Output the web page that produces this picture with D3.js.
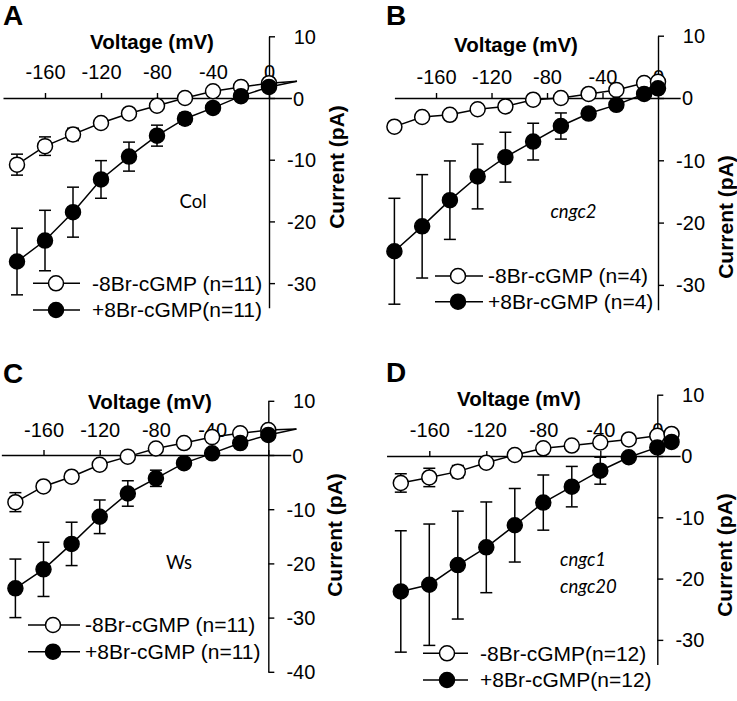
<!DOCTYPE html>
<html><head><meta charset="utf-8">
<script src="https://cdn.jsdelivr.net/npm/d3@7"></script>
<style>body{margin:0;background:#fff}svg{display:block}</style>
</head><body>
<svg id="c" width="737" height="701"></svg>
<script>
// ---------- data ----------
const xTickValues = [-160, -120, -80, -40, 0];
const yTickValuesShort = [10, 0, -10, -20, -30];
const yTickValuesLong = [10, 0, -10, -20, -30, -40];
const xTitle = "Voltage (mV)";
const yTitle = "Current (pA)";

// Panel A (Col)
const voltageA = [-180, -160, -140, -120, -100, -80, -60, -40, -20, 0, 20];
const openA = [-10.8, -7.8, -5.9, -4.05, -2.5, -1.25, 0.0, 1.1, 1.8, 2.4, 2.7];
const openErrA = [1.7, 1.5, 1.0, 0.6, 0.5, 0.4, 0.3, 0.3, 0.3, 0.3, 0];
const filledA = [-26.5, -23.1, -18.5, -13.2, -9.5, -6.1, -3.35, -1.6, 0.3, 1.8, 2.7];
const filledErrA = [5.4, 4.9, 4.05, 3.05, 2.35, 1.7, 0.9, 0.6, 0.4, 0.4, 0];
const legendA = ["-8Br-cGMP (n=11)", "+8Br-cGMP(n=11)"];
const noteA = ["Col"];

// Panel B (cngc2)
const voltageB = [-190, -170, -150, -130, -110, -90, -70, -50, -30, -10, 0];
const openB = [-4.6, -3.05, -2.7, -1.8, -1.35, -0.27, 0.0, 0.65, 1.3, 2.4, 2.6];
const openErrB = [0.4, 0.4, 0.4, 0.4, 0.3, 0.3, 0.3, 0.3, 0.3, 0.3, 0.3];
const filledB = [-24.6, -20.6, -16.4, -12.6, -9.5, -7.0, -4.5, -2.5, -1.1, 0.65, 1.55];
const filledErrB = [8.5, 8.3, 6.3, 5.2, 4.0, 2.95, 2.1, 0.6, 0.5, 0.4, 0.4];
const legendB = ["-8Br-cGMP (n=4)", "+8Br-cGMP (n=4)"];
const noteB = ["cngc2"];

// Panel C (Ws)
const voltageC = [-180, -160, -140, -120, -100, -80, -60, -40, -20, 0, 20];
const openC = [-8.7, -5.8, -4.0, -1.8, -0.3, 1.2, 2.2, 3.3, 4.0, 4.6, 4.8];
const openErrC = [1.75, 0.8, 0.6, 0.5, 0.4, 0.3, 0.3, 0.3, 0.3, 0.3, 0];
const filledC = [-24.6, -21.1, -16.4, -11.4, -7.1, -4.3, -1.5, 0.3, 2.2, 3.7, 4.8];
const filledErrC = [5.4, 5.0, 4.0, 3.1, 2.35, 1.5, 0.6, 0.5, 0.4, 0.4, 0];
const legendC = ["-8Br-cGMP (n=11)", "+8Br-cGMP (n=11)"];
const noteC = ["Ws"];

// Panel D (cngc1 cngc20)
const voltageD = [-180, -160, -140, -120, -100, -80, -60, -40, -20, 0, 10];
const openD = [-4.4, -3.5, -2.55, -1.1, 0.16, 1.25, 1.7, 2.2, 2.7, 3.3, 3.6];
const openErrD = [1.5, 1.5, 1.0, 0.5, 0.3, 0.3, 0.3, 0.3, 0.3, 0.3, 0.3];
const filledD = [-22.1, -21.0, -17.8, -14.9, -11.3, -7.6, -5.0, -2.4, -0.2, 1.4, 2.3];
const filledErrD = [9.9, 9.9, 8.8, 7.4, 6.0, 4.5, 3.3, 2.2, 0.5, 0.5, 0.3];
const legendD = ["-8Br-cGMP(n=12)", "+8Br-cGMP(n=12)"];
const noteD = ["cngc1", "cngc20"];

// ---------- layout ----------
const FONT = "'Liberation Sans', Arial, Helvetica, sans-serif";
const NOTEFONT = "Lato, 'Open Sans', sans-serif";

const panels = [
  {letter: "A", letterXY: [3, 25], v: voltageA, open: openA, openErr: openErrA, filled: filledA, filledErr: filledErrA,
   markerMax: 0, xRange: [3, 291.4], yDomain: [10, -34], yRange: [36.3, 307.8], yTicks: yTickValuesShort,
   xLabelPad: 14, xTitleXY: [152, 48.5], yTitleXY: [337, 167],
   legend: legendA, legLine: [33, 80], legMarker: 56, legText: 92, legRows: [283.3, 310],
   note: noteA, noteXY: [193, 202], noteAnchor: "middle", noteItalic: false},
  {letter: "B", letterXY: [386, 25], v: voltageB, open: openB, openErr: openErrB, filled: filledB, filledErr: filledErrB,
   markerMax: 100, xRange: [394.4, 680.2], yDomain: [10, -34], yRange: [35.7, 309.8], yTicks: yTickValuesShort,
   xLabelPad: 9, xTitleXY: [516, 52], yTitleXY: [726, 217],
   legend: legendB, legLine: [435, 483], legMarker: 458, legText: 488, legRows: [276, 301.7],
   note: noteB, noteXY: [573.5, 212], noteAnchor: "middle", noteItalic: true},
  {letter: "C", letterXY: [3, 383], v: voltageC, open: openC, openErr: openErrC, filled: filledC, filledErr: filledErrC,
   markerMax: 0, xRange: [1.35, 290.8], yDomain: [10, -40], yRange: [400.8, 671.8], yTicks: yTickValuesLong,
   xLabelPad: 13.5, xTitleXY: [150, 409], yTitleXY: [335, 535],
   legend: legendC, legLine: [28, 80], legMarker: 53, legText: 85, legRows: [625, 651.7],
   note: noteC, noteXY: [179, 563], noteAnchor: "middle", noteItalic: false},
  {letter: "D", letterXY: [386, 381.7], v: voltageD, open: openD, openErr: openErrD, filled: filledD, filledErr: filledErrD,
   markerMax: 100, xRange: [386.55, 680.1], yDomain: [10, -34], yRange: [394.7, 664.4], yTicks: yTickValuesShort,
   xLabelPad: 14, xTitleXY: [519, 405.5], yTitleXY: [725, 555],
   legend: legendD, legLine: [423, 468], legMarker: 447, legText: 480, legRows: [653.3, 680],
   note: noteD, noteXY: [560, 560], noteAnchor: "start", noteItalic: true}
];

const svg = d3.select("#c");
const R = 7.5, SW = 1.5, CAP = 6;

panels.forEach(p => {
  const x = d3.scaleLinear().domain([-190, 16]).range(p.xRange);
  const y = d3.scaleLinear().domain(p.yDomain).range(p.yRange);
  const g = svg.append("g");

  g.append("text").attr("x", p.letterXY[0]).attr("y", p.letterXY[1])
    .attr("font-family", FONT).attr("font-weight", "bold").attr("font-size", 28).text(p.letter);

  const xAxis = d3.axisTop(x).tickValues(xTickValues).tickSize(5).tickSizeOuter(0)
    .tickPadding(p.xLabelPad).tickFormat(d3.format("d"));
  const gx = g.append("g").attr("transform", `translate(0,${y(0)})`).call(xAxis);
  gx.select(".domain").attr("stroke", "#000").attr("stroke-width", 1.4);
  gx.selectAll(".tick line").attr("stroke", "#000").attr("stroke-width", 1.4);
  gx.selectAll(".tick text").attr("font-family", FONT).attr("font-size", 20).attr("fill", "#000")
    .text(d => String(d));

  const yAxis = d3.axisRight(y).tickValues(p.yTicks).tickSize(6).tickSizeOuter(0).tickPadding(0);
  const gy = g.append("g").attr("transform", `translate(${x(0)},0)`).call(yAxis);
  gy.select(".domain").attr("stroke", "#000").attr("stroke-width", 1.4);
  gy.selectAll(".tick line").attr("stroke", "#000").attr("stroke-width", 1.4);
  gy.selectAll(".tick text").attr("font-family", FONT).attr("font-size", 20).attr("fill", "#000")
    .attr("text-anchor", "end").attr("x", d => d === 0 ? 35 : 47).attr("dy", "0.35em")
    .text(d => String(d));

  g.append("text").attr("x", p.xTitleXY[0]).attr("y", p.xTitleXY[1]).attr("text-anchor", "middle")
    .attr("font-family", FONT).attr("font-weight", "bold").attr("font-size", 20.5).text(xTitle);
  g.append("text").attr("transform", `translate(${p.yTitleXY[0]},${p.yTitleXY[1]}) rotate(-90)`)
    .attr("text-anchor", "middle").attr("dy", "0.35em")
    .attr("font-family", FONT).attr("font-weight", "bold").attr("font-size", 21).text(yTitle);

  p.note.forEach((t, i) => {
    g.append("text").attr("x", p.noteXY[0]).attr("y", p.noteXY[1] + i * 27).attr("dy", "0.33em")
      .attr("text-anchor", p.noteAnchor).attr("font-family", NOTEFONT).attr("font-size", 18.5)
      .attr("font-style", p.noteItalic ? "italic" : "normal").text(t);
  });

  const series = [
    {vals: p.open, err: p.openErr, fill: "#fff"},
    {vals: p.filled, err: p.filledErr, fill: "#000"}
  ];
  const line = d3.line().x(d => x(d.v)).y(d => y(d.i));
  series.forEach(s => {
    const pts = p.v.map((v, k) => ({v, i: s.vals[k], e: s.err[k]}));
    g.append("path").datum(pts).attr("d", line).attr("fill", "none")
      .attr("stroke", "#000").attr("stroke-width", SW);
    const eb = g.append("g").attr("stroke", "#000").attr("stroke-width", SW);
    pts.filter(d => d.e > 0 && d.v <= p.markerMax).forEach(d => {
      const cx = x(d.v), y1 = y(d.i + d.e), y2 = y(d.i - d.e);
      eb.append("line").attr("x1", cx).attr("x2", cx).attr("y1", y1).attr("y2", y2);
      eb.append("line").attr("x1", cx - CAP).attr("x2", cx + CAP).attr("y1", y1).attr("y2", y1);
      eb.append("line").attr("x1", cx - CAP).attr("x2", cx + CAP).attr("y1", y2).attr("y2", y2);
    });
    g.selectAll(null).data(pts.filter(d => d.v <= p.markerMax)).enter().append("circle")
      .attr("cx", d => x(d.v)).attr("cy", d => y(d.i)).attr("r", R)
      .attr("fill", s.fill).attr("stroke", "#000").attr("stroke-width", SW);
  });

  const fills = ["#fff", "#000"];
  p.legend.forEach((t, i) => {
    const ry = p.legRows[i];
    g.append("line").attr("x1", p.legLine[0]).attr("x2", p.legLine[1]).attr("y1", ry).attr("y2", ry)
      .attr("stroke", "#000").attr("stroke-width", SW);
    g.append("circle").attr("cx", p.legMarker).attr("cy", ry).attr("r", R)
      .attr("fill", fills[i]).attr("stroke", "#000").attr("stroke-width", SW);
    g.append("text").attr("x", p.legText).attr("y", ry).attr("dy", "0.35em")
      .attr("font-family", FONT).attr("font-size", 21).text(t);
  });
});
</script>
</body></html>
